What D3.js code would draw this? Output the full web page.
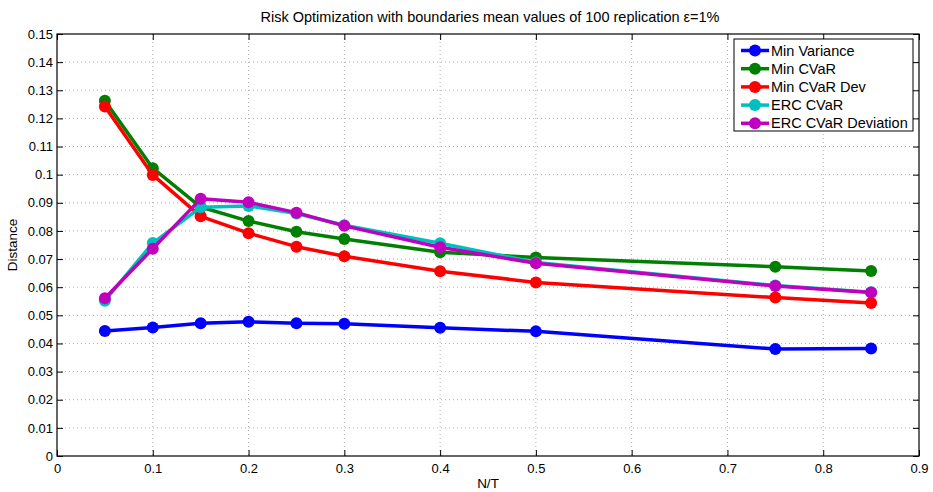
<!DOCTYPE html>
<meta charset="utf-8">
<html>
<style>
body { margin: 0; background: #fff; }
svg { font-family: "Liberation Sans", Arial, sans-serif; }
.grid line { stroke: #b0b0b0; stroke-dasharray: 1,3; }
.series { fill: none; stroke-width: 3.5px; stroke-linejoin: round; }
</style>
<body>
<script src="https://d3js.org/d3.v7.min.js"></script>
<script>

// N/T ratios
var ratios = [0.05, 0.1, 0.15, 0.2, 0.25, 0.3, 0.4, 0.5, 0.75, 0.85];

// mean distance for each strategy
var minVariance = [0.0444, 0.0457, 0.0472, 0.0477, 0.0472, 0.0470, 0.0456, 0.0443, 0.0380, 0.0382];
var minCVaR     = [0.1263, 0.1023, 0.0885, 0.0835, 0.0797, 0.0771, 0.0724, 0.0706, 0.0673, 0.0658];
var minCVaRDev  = [0.1242, 0.0999, 0.0852, 0.0792, 0.0744, 0.0710, 0.0657, 0.0617, 0.0563, 0.0544];
var ercCVaR     = [0.0552, 0.0757, 0.0884, 0.0889, 0.0862, 0.0820, 0.0756, 0.0688, 0.0606, 0.0582];
var ercCVaRDev  = [0.0561, 0.0737, 0.0914, 0.0902, 0.0865, 0.0818, 0.0742, 0.0685, 0.0604, 0.0581];

var seriesNames = ["Min Variance", "Min CVaR", "Min CVaR Dev", "ERC CVaR", "ERC CVaR Deviation"];
var seriesColors = ["#0000ff", "#008000", "#ff0000", "#00bfbf", "#bf00bf"];
var seriesValues = [minVariance, minCVaR, minCVaRDev, ercCVaR, ercCVaRDev];

var xTicks = d3.range(0, 0.91, 0.1);
var yTicks = d3.range(0, 0.151, 0.01);

var margin = {top: 34, right: 14, bottom: 36, left: 57},
    width = 933 - margin.left - margin.right,
    height = 492 - margin.top - margin.bottom;

var x = d3.scaleLinear().domain([0, 0.9]).range([0, width]);
var y = d3.scaleLinear().domain([0, 0.15]).range([height, 0]);

var svg = d3.select("body").append("svg")
    .attr("width", 933)
    .attr("height", 492)
  .append("g")
    .attr("transform", "translate(" + margin.left + "," + margin.top + ")");

// dotted grid
svg.append("g").attr("class", "grid")
  .selectAll("line").data(xTicks.slice(1, -1)).enter().append("line")
    .attr("x1", d => x(d)).attr("x2", d => x(d))
    .attr("y1", 0).attr("y2", height);
svg.append("g").attr("class", "grid")
  .selectAll("line").data(yTicks.slice(1, -1)).enter().append("line")
    .attr("y1", d => y(d)).attr("y2", d => y(d))
    .attr("x1", 0).attr("x2", width);

// axes with inward ticks on every side
function styleAxis(g) {
  g.select(".domain").remove();
  g.selectAll("line").attr("stroke", "#000");
  g.selectAll("text").style("font-size", "13px").attr("fill", "#000");
}
var fmt = d => d3.format("")(+d.toFixed(2));

svg.append("g")
    .attr("transform", "translate(0," + height + ")")
    .call(d3.axisBottom(x).tickValues(xTicks).tickSize(-6).tickPadding(8).tickFormat(fmt))
    .call(styleAxis);
svg.append("g")
    .call(d3.axisTop(x).tickValues(xTicks).tickSize(-6).tickFormat(""))
    .call(styleAxis);
svg.append("g")
    .call(d3.axisLeft(y).tickValues(yTicks).tickSize(-6).tickPadding(4).tickFormat(fmt))
    .call(styleAxis);
svg.append("g")
    .attr("transform", "translate(" + width + ",0)")
    .call(d3.axisRight(y).tickValues(yTicks).tickSize(-6).tickFormat(""))
    .call(styleAxis);

svg.append("rect")
    .attr("width", width).attr("height", height)
    .attr("fill", "none").attr("stroke", "#000").attr("stroke-width", 1.2);

// series lines and markers
var line = d3.line()
    .x((d, i) => x(ratios[i]))
    .y(d => y(d));

seriesValues.forEach(function(vals, k) {
  var g = svg.append("g");
  g.append("path")
      .datum(vals)
      .attr("class", "series")
      .attr("stroke", seriesColors[k])
      .attr("d", line);
  g.selectAll("circle").data(vals).enter().append("circle")
      .attr("cx", (d, i) => x(ratios[i]))
      .attr("cy", d => y(d))
      .attr("r", 6)
      .attr("fill", seriesColors[k]);
});

// legend
var legend = svg.append("g").attr("transform", "translate(" + (734 - margin.left) + "," + (39 - margin.top) + ")");
legend.append("rect")
    .attr("width", 179).attr("height", 92)
    .attr("fill", "#fff").attr("stroke", "#000").attr("stroke-width", 1);
seriesNames.forEach(function(name, k) {
  var row = legend.append("g").attr("transform", "translate(0," + (11.5 + k * 18.2) + ")");
  row.append("line")
      .attr("x1", 7).attr("x2", 35)
      .attr("stroke", seriesColors[k]).attr("stroke-width", 3.5);
  row.append("circle").attr("cx", 21).attr("r", 6).attr("fill", seriesColors[k]);
  row.append("text")
      .attr("x", 37).attr("dy", "0.35em")
      .style("font-size", "14.5px")
      .text(name);
});

// title and axis labels
svg.append("text")
    .attr("x", width / 2 + 2).attr("y", -12)
    .attr("text-anchor", "middle")
    .style("font-size", "14.5px")
    .text("Risk Optimization with boundaries mean values of 100 replication ε=1%");
svg.append("text")
    .attr("x", width / 2).attr("y", height + 32)
    .attr("text-anchor", "middle")
    .style("font-size", "13.5px")
    .text("N/T");
svg.append("text")
    .attr("transform", "translate(" + (-40) + "," + (height / 2) + ") rotate(-90)")
    .attr("text-anchor", "middle")
    .style("font-size", "13.5px")
    .text("Distance");

</script>
</body>
</html>
